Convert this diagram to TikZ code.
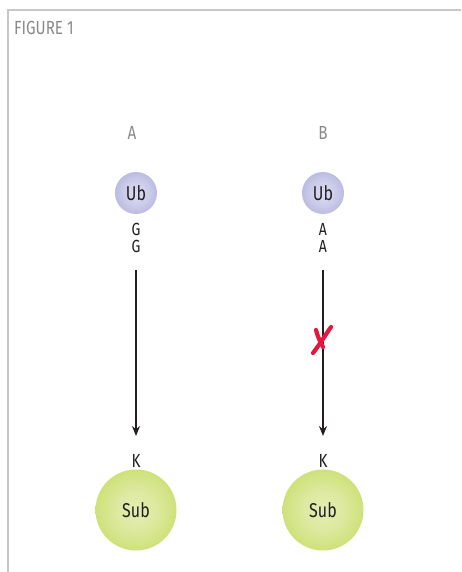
\documentclass[tikz,border=0pt]{standalone}
\usepackage{fontspec}
\setmainfont{Fira Sans}[FakeStretch=0.8]
\usetikzlibrary{arrows.meta}
\definecolor{framegray}{HTML}{C8C8C8}
\definecolor{labelgray}{HTML}{8A8A8A}
\definecolor{txt}{HTML}{231F20}
\definecolor{ubin}{HTML}{DADAF2}
\definecolor{ubout}{HTML}{9696CE}
\definecolor{subin}{HTML}{E4EEB4}
\definecolor{subout}{HTML}{B4D030}
\definecolor{xred}{HTML}{E3173F}
\pgfdeclareradialshading{ubshade}{\pgfpoint{0bp}{0bp}}{color(0bp)=(ubin); color(12bp)=(ubin!85!ubout); color(50bp)=(ubout); color(100bp)=(ubout)}
\pgfdeclareradialshading{subshade}{\pgfpoint{0bp}{0bp}}{color(0bp)=(subin); color(12bp)=(subin!85!subout); color(50bp)=(subout); color(100bp)=(subout)}
\tikzset{
  lbl/.style={text=txt, font=\fontsize{19}{19}\selectfont, inner sep=0pt},
  pair/.style={text=txt, font=\fontsize{17.5}{17.5}\selectfont, inner sep=0pt, align=center},
  head/.style={text=labelgray, font=\fontsize{19}{19}\selectfont, inner sep=0pt},
  ubnode/.style={circle, minimum size=42pt, inner sep=0pt, shading=ubshade, text=txt, font=\fontsize{20}{20}\selectfont},
  subnode/.style={circle, minimum size=81pt, inner sep=0pt, shading=subshade, text=txt, font=\fontsize{20}{20}\selectfont},
  conn/.style={line width=1.6pt, txt, -{Stealth[length=10pt,width=8pt]}},
  redx/.style={xred, line width=4.2pt, line cap=round}
}
\begin{document}
\begin{tikzpicture}[x=1pt,y=-1pt]
\useasboundingbox (0,0) rectangle (461,572);
\draw[framegray, line width=1.5pt] (8,572) -- (8,10) -- (461,10);
\node[head, anchor=west] (fig) at (14,28) {FIGURE 1};
\node[head] (hA) at (132,133) {A};
\node[head] (hB) at (323,133) {B};
% column A
\node[ubnode] (ubA) at (136,193) {Ub};
\node[pair] (gg) at (136,238) {G\\G};
\coordinate (sA) at (136,270);
\node[lbl] (kA) at (136,461) {K};
\node[subnode] (subA) at (136,510) {Sub};
\coordinate (eA) at (136,436);
\draw[conn] (sA) -- (eA);
% column B
\node[ubnode] (ubB) at (323,193) {Ub};
\node[pair] (aa) at (323,238) {A\\A};
\coordinate (sB) at (323,270);
\node[lbl] (kB) at (323,461) {K};
\node[subnode] (subB) at (323,510) {Sub};
\coordinate (eB) at (323,436);
\draw[conn] (sB) -- (eB);
% red cross
\coordinate (x1) at (313,353);
\coordinate (x2) at (331,327);
\coordinate (x3) at (316,330);
\coordinate (x4) at (323,347);
\draw[redx] (x1) .. controls (320,344) and (326,334) .. (x2);
\draw[redx] (x3) .. controls (318,337) .. (x4);
\end{tikzpicture}
\end{document}
